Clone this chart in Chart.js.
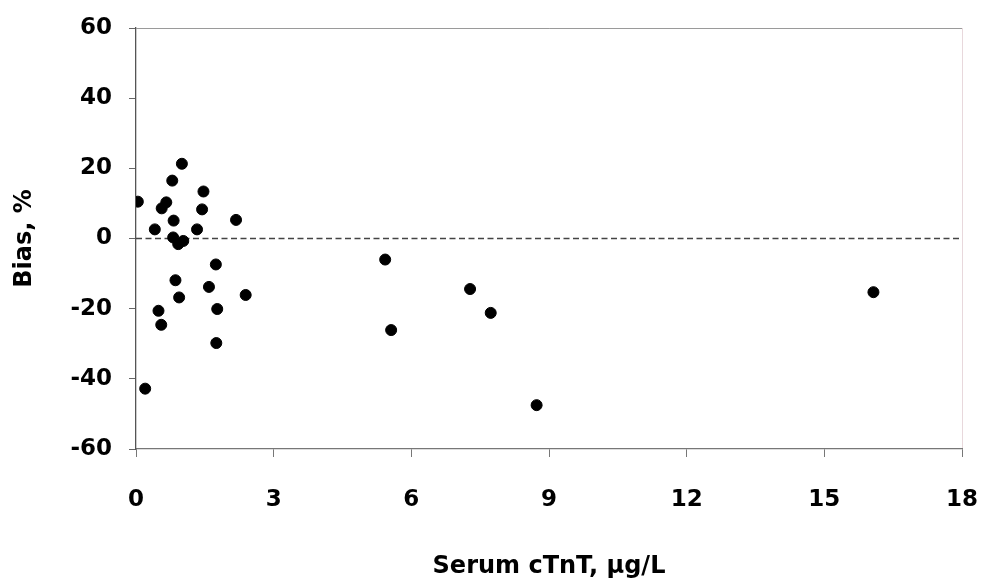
<!DOCTYPE html>
<html>
<head>
<meta charset="utf-8">
<script src="https://cdn.jsdelivr.net/npm/chart.js@4/dist/chart.umd.min.js"></script>
<style>
  body { margin: 0; background: #fff; }
</style>
</head>
<body>
<canvas id="myChart" width="981" height="583"></canvas>
<script>
// serum cTnT (ug/L) and bias (%)
const cTnT = [0.04, 1.00, 0.79, 0.66, 0.56, 1.47, 1.44, 0.82, 0.41, 1.33, 2.18, 0.81, 0.92, 1.03, 1.74,
              0.86, 1.59, 0.94, 2.39, 0.49, 1.77, 0.55, 1.75, 0.20, 5.43, 7.28, 7.73, 5.56, 8.73, 16.07];
const bias = [10.5, 21.3, 16.5, 10.3, 8.6, 13.4, 8.3, 5.1, 2.6, 2.6, 5.3, 0.3, -1.6, -0.7, -7.4,
              -11.9, -13.8, -16.8, -16.1, -20.6, -20.1, -24.6, -29.8, -42.8, -6.0, -14.4, -21.2, -26.1, -47.5, -15.3];
const refX = [0, 18];
const refY = [0, 0];
const xTicks = [0, 3, 6, 9, 12, 15, 18];
const yTicks = [-60, -40, -20, 0, 20, 40, 60];

const puntos = [];
for (let i = 0; i < cTnT.length; i++) {
    puntos.push({ x: cTnT[i], y: bias[i] });
}
const linea = [];
for (let i = 0; i < refX.length; i++) {
    linea.push({ x: refX[i], y: refY[i] });
}

const fuente = { family: 'DejaVu Sans', size: 23, weight: 'bold' };
const fuenteTitulo = { family: 'DejaVu Sans', size: 24, weight: 'bold' };

let ctx = document.getElementById('myChart').getContext('2d');
const myChart = new Chart(ctx, {
    type: 'scatter',
    data: {
        datasets: [{
            data: puntos,
            backgroundColor: '#000',
            borderColor: '#000',
            pointRadius: 5.5,
            pointHoverRadius: 5.5
        }, {
            type: 'line',
            data: linea,
            borderColor: '#444',
            borderWidth: 1.7,
            borderDash: [6, 3.5],
            pointRadius: 0,
            fill: false
        }]
    },
    options: {
        responsive: false,
        animation: false,
        layout: { padding: { top: 28, right: 19, left: 0, bottom: 0 } },
        plugins: { legend: { display: false }, tooltip: { enabled: false } },
        scales: {
            x: {
                type: 'linear',
                min: 0,
                max: 18,
                afterBuildTicks: (s) => { s.ticks = xTicks.map(v => ({ value: v })); },
                afterFit: (s) => { s.height = 134; s.paddingLeft = 0; s.paddingRight = 0; },
                ticks: { color: '#000', font: fuente, padding: 29 },
                grid: {
                    color: (c) => c.tick && c.tick.value === 18 ? '#e8d8dc' : 'rgba(0,0,0,0)',
                    tickColor: '#777',
                    tickLength: 8
                },
                border: { color: '#777', width: 1.3 },
                title: {
                    display: true,
                    text: 'Serum cTnT, μg/L',
                    color: '#000',
                    font: fuenteTitulo,
                    padding: { top: 0, bottom: 2 }
                }
            },
            y: {
                min: -60,
                max: 60,
                afterBuildTicks: (s) => { s.ticks = yTicks.map(v => ({ value: v })); },
                afterFit: (s) => { s.width = 136; s.paddingTop = 0; s.paddingBottom = 0; },
                ticks: { color: '#000', font: fuente, padding: 17 },
                grid: {
                    color: (c) => c.tick && c.tick.value === 60 ? '#9a9a9a' : 'rgba(0,0,0,0)',
                    tickColor: '#666',
                    tickLength: 7
                },
                border: { color: '#555', width: 1.3 },
                title: {
                    display: true,
                    text: 'Bias, %',
                    color: '#000',
                    font: fuenteTitulo,
                    padding: { top: 10, bottom: 0 }
                }
            }
        }
    }
});
</script>
</body>
</html>
